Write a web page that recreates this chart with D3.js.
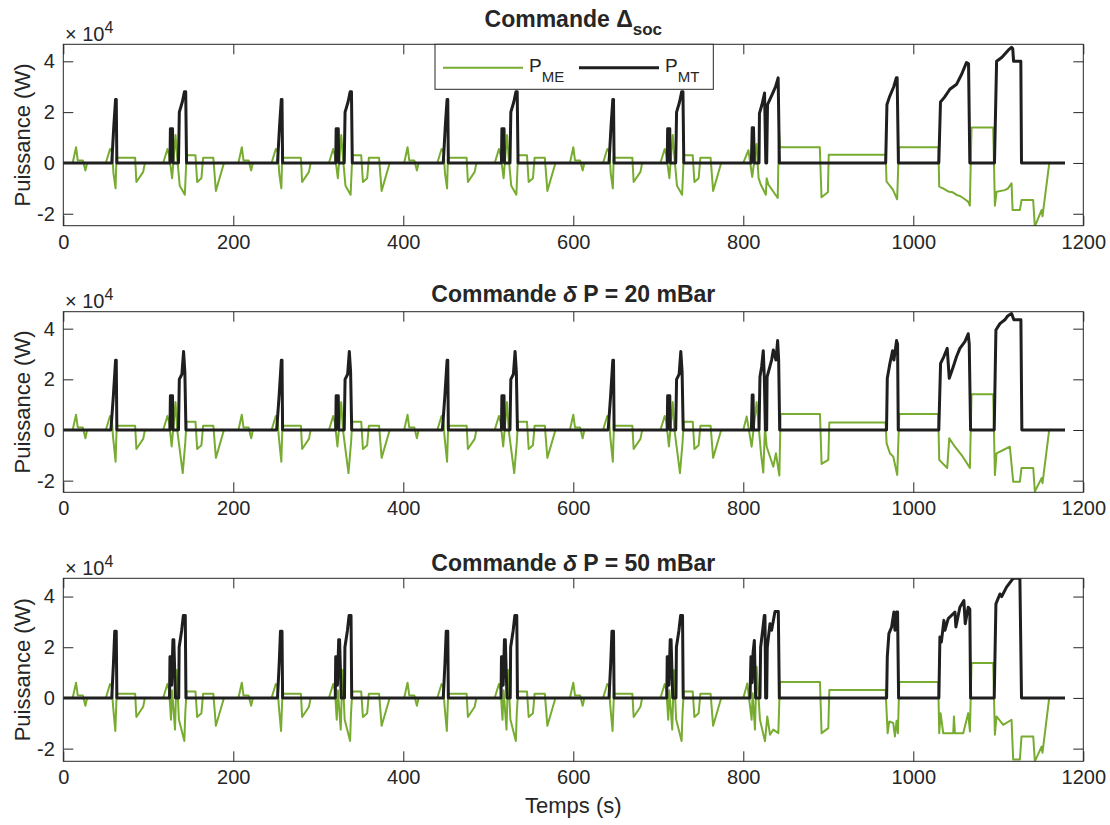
<!DOCTYPE html>
<html>
  <head>
    <meta charset="utf-8">
    <title>Puissance ME / MT</title>
    <script src="https://d3js.org/d3.v7.min.js" charset="utf-8"></script>
    <style type="text/css">
      body { margin: 0; background: #fff; }
      text { font-family: "Liberation Sans", Arial, Helvetica, sans-serif; fill: #262626; }
    </style>
  </head>
  <body>
    <script type="text/javascript">

      // Axis ticks
      var xTicks = [0, 200, 400, 600, 800, 1000, 1200];
      var yTicks = [-2, 0, 2, 4];            // x 10^4 W

      // The urban part (ECE-15, 195 s) is run four times before the EUDC part
      var eceStarts = [0, 195, 390, 585];

      // ---- Commande Delta soc : [time (s), power (x10^4 W)] ----
      var ece1ME = [[0,0],[11,0],[15,0.62],[17,0.1],[23,0.1],[26,-0.3],[28,0],
        [50,0],[55,0.55],[57.5,0.45],[59,-0.4],[61.5,-1.0],[62.5,0.2],[84.5,0.2],[86,-0.75],[94,-0.35],[96,0],
        [117.5,0],[122.5,0.55],[124.5,0.3],[128,-0.6],[132,1.1],[134,0.2],[137,-0.9],[143,-1.25],[145,0.3],
        [155.5,0.3],[157.5,-0.75],[162.5,-0.6],[164.5,0.2],[176.5,0.2],[179.5,-1.1],[189,0]];
      var ece1MT = [[0,0],[57,0],[59.5,1.5],[61.5,2.5],[62.3,2.5],[63,0],[125.5,0],[126,1.35],[128.5,1.35],[129,0],
        [135.5,0],[136.5,2.0],[140,2.4],[142.5,2.8],[144,2.8],[145,0]];
      var eudc1ME = [[796,0],[800,0],[806,0.5],[810.5,-0.55],[815.5,0.75],[818,-0.6],[820.5,-0.85],[826.5,-1.25],
        [827.5,-0.6],[829.5,-0.85],[840.5,-1.38],[842,1.3],[843,0.62],[890,0.62],[892,-1.35],[899.5,-1.15],
        [900.5,0.32],[967.5,0.32],[968.5,-0.73],[976,-1.05],[981,-1.43],[983,0.62],[1029.5,0.62],[1030.5,-0.93],
        [1035,-1.0],[1041,-1.12],[1046,-1.15],[1051,-1.26],[1055,-1.3],[1059,-1.39],[1064.5,-1.52],[1066.5,-1.68],
        [1068.5,1.4],[1094,1.4],[1096,-1.68],
        [1098,-1.13],[1107.7,-1.07],[1111.5,-1.0],[1115.6,-0.8],[1116.8,-1.85],[1125.4,-1.85],[1127.3,-1.46],
        [1141,-1.46],[1143,-2.5],[1151,-1.85],[1152,-2.1],[1160,0],[1178.5,0]];
      var eudc1MT = [[796,0],[809.5,0],[810.5,1.39],[812,1.39],[813,0],[818.5,0],[819,1.95],[822,2.3],[825,2.75],
        [826.5,0],[827.5,0],[828.5,2.3],[834,2.7],[838,3.0],[841,3.35],[842.5,0],
        [967.5,0],[969,2.3],[972,2.6],[977,3.0],[980,3.35],[981,3.35],[982.5,0],
        [1030,0],[1032,2.4],[1037,2.6],[1043,2.9],[1051,3.1],[1057,3.5],[1062.5,3.95],[1065,3.9],[1066.5,0],
        [1095.5,0],[1098,4.0],[1104,4.15],[1108,4.3],[1112,4.45],[1115.5,4.55],[1117,4.5],[1118,4.0],
        [1126.5,4.0],[1127.3,0],[1178.5,0]];

      // ---- Commande delta P = 20 mBar ----
      var ece2ME = [[0,0],[11,0],[15,0.6],[17,0.1],[23,0.1],[26,-0.33],[28,0],
        [50,0],[55,0.55],[57,0.45],[58.5,-0.26],[61.5,-1.25],[62.8,0.17],[84.5,0.17],[86,-0.75],[94,-0.35],[96,0],
        [117.5,0],[122.5,0.55],[124.5,0.3],[127.5,-0.65],[132,1.1],[134,0],[140.5,-1.7],[143.5,-0.5],[145,0.33],
        [155.5,0.33],[157.5,-0.75],[162.5,-0.6],[164.5,0.17],[176.5,0.17],[179.5,-1.1],[189,0]];
      var ece2MT = [[0,0],[56,0],[58.8,1.3],[61.5,2.75],[62.3,2.75],[63,0],[125.5,0],[126,1.35],[128.5,1.35],[129,0],
        [135.5,0],[136.5,2.0],[139.5,2.2],[141.5,3.1],[143,2.3],[144.3,0]];
      var eudc2ME = [[796,0],[800,0],[804,0.53],[809.8,-0.66],[815.7,1.1],[820.8,-0.92],[823.5,-1.68],[825.5,0.1],
        [827.5,-0.66],[835.3,-1.45],[838.4,-0.92],[842.4,-1.8],[843.9,0.63],[890.2,0.63],[892.1,-1.34],[900,-1.18],
        [901.2,0.3],[967.4,0.3],[968.6,-0.53],[972.5,-0.92],[976.4,-1.05],[981.1,-1.78],[983.5,0.63],[1029.3,0.63],
        [1030.5,-1.18],[1039.9,-1.5],[1042.3,-0.33],[1049,-0.66],[1056.8,-0.99],[1061.9,-1.25],[1066.6,-1.5],
        [1068.5,1.41],[1094,1.41],[1096,-1.78],[1097.9,-0.92],[1105.8,-0.79],[1113.6,-0.66],[1117.5,-2.04],
        [1125.4,-2.04],[1127.3,-1.5],[1141.1,-1.5],[1143,-2.43],[1150.9,-1.9],[1152,-2.1],[1159.9,0],[1178.5,0]];
      var eudc2MT = [[796,0],[809.5,0],[810.5,1.38],[811.5,1.38],[812,0],[818.5,0],[819.6,2.1],[821.6,2.5],
        [823.5,3.13],[824.7,2.1],[826,0],[827.5,0],[828,2.1],[833.3,2.76],[835.3,3.16],[838.4,2.76],[840.4,3.53],
        [841.6,2.76],[842.8,0],[968.5,0],[969.4,2.04],[972.5,2.63],[975.6,3.13],[977.2,2.76],[980.3,3.53],
        [981.5,3.4],[982.3,0],[1030,0],[1032.1,2.63],[1036,2.9],[1039.9,3.22],[1042.3,2.04],[1047,2.5],
        [1050.9,2.9],[1054.8,3.22],[1060.7,3.49],[1064.6,3.8],[1065.8,3.4],[1067.4,0],[1095.2,0],[1097.2,3.95],
        [1101.9,4.2],[1107.7,4.35],[1111,4.5],[1115.6,4.6],[1118.3,4.35],[1126.6,4.35],[1127.7,0],[1178.5,0]];

      // ---- Commande delta P = 50 mBar ----
      var ece3ME = [[0,0],[11,0],[15,0.6],[17,0.1],[23,0.1],[26,-0.31],[28,0],
        [50,0],[55,0.55],[57,0.45],[58.5,-0.3],[61.2,-1.3],[62.8,0.17],[84.5,0.17],[86,-0.75],[94,-0.35],[96,0],
        [117.5,0],[122.5,0.55],[124.5,0.3],[126.7,-0.86],[128,0.3],[131.4,-1.25],[133.4,1.1],[136,-0.85],
        [142.4,-1.7],[143.5,-0.6],[145,0.25],[155.5,0.25],[157.5,-0.75],[162.5,-0.6],[164.5,0.17],[176.5,0.17],
        [179.5,-1.1],[189,0]];
      var ece3MT = [[0,0],[57,0],[59,1.36],[60.5,2.63],[62.3,2.63],[63,0],[125,0],[125.5,1.62],[127,1.62],
        [127.5,0.5],[129,2.3],[130,2.3],[132,0],[135.8,0],[136.3,2.0],[139.3,2.67],[141.2,3.25],[143.5,3.25],[144.3,0]];
      var eudc3ME = [[796,0],[800,0],[804.7,0.57],[809.8,-0.86],[811,0.18],[813.7,-1.25],[815.7,1.23],[819.6,-0.86],
        [825.5,-1.71],[828.2,-0.73],[831.4,-1.45],[835.3,-1.25],[841.2,-1.39],[843.1,0.63],[890.2,0.63],
        [892.1,-1.39],[900,-1.19],[901.2,0.31],[967.4,0.31],[969.8,-1.39],[971.7,-0.93],[976.4,-0.99],[978.4,-1.52],
        [980.3,-0.9],[981.9,-1.39],[983.5,0.63],[1029.3,0.63],[1030.5,-1.39],[1032.1,-0.6],[1035.2,-1.39],
        [1047,-1.39],[1047.8,-0.73],[1049,-1.39],[1058.7,-1.39],[1064.6,-0.6],[1066.6,-1.32],[1068.5,1.38],
        [1094,1.38],[1096,-1.45],[1097.9,-0.73],[1105.8,-1.06],[1115.6,-0.86],[1117.5,-2.43],[1125.4,-2.43],
        [1127.3,-1.52],[1141.1,-1.52],[1143,-2.5],[1150.9,-1.92],[1152,-2.16],[1159.9,0],[1178.5,0]];
      var eudc3MT = [[796,0],[807.9,0],[809,1.62],[810.2,0.6],[811.5,1.8],[813,2.27],[814.5,0],[819.6,0],[820.4,2.0],
        [822.8,2.67],[824.7,3.25],[825.5,3.25],[826.3,0],[827.5,0],[828.2,2.0],[831.4,2.93],[833.3,2.67],
        [837.3,3.41],[841.2,3.41],[842.4,0],[968.6,0],[969.4,1.62],[971.3,2.54],[974.5,2.8],[977.2,3.39],
        [978.4,2.67],[980.3,3.39],[981.5,3.39],[982.7,0],[1030.1,0],[1031.3,2.4],[1033,2.2],[1036,3.06],
        [1037.2,2.67],[1041.1,3.13],[1049,3.39],[1050.1,2.8],[1054.8,3.58],[1059.5,3.84],[1061.1,2.93],
        [1064.6,3.58],[1066.5,3.5],[1067.4,0],[1095.2,0],[1097.2,3.71],[1101.9,4.1],[1104,4.0],[1109.7,4.37],
        [1117.5,4.72],[1125.4,4.72],[1127.3,0],[1178.5,0]];

      // Chain the four urban cycles and the extra-urban part
      function fullSeries(ece, eudc) {
        var out = [];
        eceStarts.forEach(function(s) {
          ece.forEach(function(d) { out.push([d[0] + s, d[1]]); });
        });
        return out.concat(eudc);
      }

      var green = "#77ac30";
      var black = "#1f1f1f";
      var axisColor = "#262626";

      var panels = [
        { top: 44.3, bottom: 225.7, ymin: -2.47, ymax: 4.67, titleY: 26.7, title: "soc",
          me: fullSeries(ece1ME, eudc1ME), mt: fullSeries(ece1MT, eudc1MT) },
        { top: 311.7, bottom: 492.3, ymin: -2.46, ymax: 4.67, titleY: 301.7, title: "20",
          me: fullSeries(ece2ME, eudc2ME), mt: fullSeries(ece2MT, eudc2MT) },
        { top: 578.3, bottom: 761.3, ymin: -2.5, ymax: 4.72, titleY: 570.7, title: "50",
          me: fullSeries(ece3ME, eudc3ME), mt: fullSeries(ece3MT, eudc3MT) }
      ];

      var svg = d3.select("body").append("svg")
          .attr("width", 1110)
          .attr("height", 825);

      var x = d3.scaleLinear().domain([0, 1200]).range([63.3, 1083.3]);
      var plain = function(d) { return String(d); };   // "-2" with a plain hyphen, "1000" without comma

      panels.forEach(function(p, i) {
        var y = d3.scaleLinear().domain([p.ymin, p.ymax]).range([p.bottom, p.top]);
        var g = svg.append("g");

        svg.append("clipPath").attr("id", "clip" + i)
          .append("rect")
            .attr("x", x.range()[0]).attr("y", p.top)
            .attr("width", x.range()[1] - x.range()[0])
            .attr("height", p.bottom - p.top);

        var line = d3.line()
            .x(function(d) { return x(d[0]); })
            .y(function(d) { return y(d[1]); });

        g.append("path").datum(p.me)
            .attr("d", line)
            .attr("clip-path", "url(#clip" + i + ")")
            .style("fill", "none").style("stroke", green)
            .style("stroke-width", 2).style("stroke-linejoin", "round");

        g.append("path").datum(p.mt)
            .attr("d", line)
            .attr("clip-path", "url(#clip" + i + ")")
            .style("fill", "none").style("stroke", black)
            .style("stroke-width", 3).style("stroke-linejoin", "round");

        // Axes (ticks inside, like matlab)
        var ax = [
          g.append("g").attr("transform", "translate(0," + p.bottom + ")")
            .call(d3.axisBottom(x).tickValues(xTicks).tickFormat(plain)
              .tickSizeInner(-10).tickSizeOuter(0).tickPadding(9)),
          g.append("g").attr("transform", "translate(0," + p.top + ")")
            .call(d3.axisTop(x).tickValues(xTicks).tickSizeInner(-10).tickSizeOuter(0).tickFormat("")),
          g.append("g").attr("transform", "translate(" + x.range()[0] + ",0)")
            .call(d3.axisLeft(y).tickValues(yTicks).tickFormat(plain)
              .tickSizeInner(-10).tickSizeOuter(0).tickPadding(8.5)),
          g.append("g").attr("transform", "translate(" + x.range()[1] + ",0)")
            .call(d3.axisRight(y).tickValues(yTicks).tickSizeInner(-10).tickSizeOuter(0).tickFormat(""))
        ];
        ax.forEach(function(a) {
          a.attr("color", axisColor);
          a.select(".domain").remove();
          a.selectAll("text").attr("font-size", 20).attr("font-family", null);
        });

        g.append("rect")
            .attr("x", x.range()[0]).attr("y", p.top)
            .attr("width", x.range()[1] - x.range()[0])
            .attr("height", p.bottom - p.top)
            .style("fill", "none").style("stroke", axisColor).style("stroke-width", 1);

        // x10^4 exponent
        var ex = g.append("text").attr("x", 65).attr("y", p.top - 3.6).attr("font-size", 20);
        ex.append("tspan").attr("font-weight", "300").text("\u00d7 ");
        ex.append("tspan").text("10");
        ex.append("tspan").attr("dy", -8).attr("font-size", 16).text("4");

        // y label
        g.append("text")
            .attr("transform", "translate(30," + ((p.top + p.bottom) / 2) + ") rotate(-90)")
            .attr("text-anchor", "middle").attr("font-size", 22)
            .text("Puissance (W)");

        // title
        var t = g.append("text")
            .attr("x", (x.range()[0] + x.range()[1]) / 2).attr("y", p.titleY)
            .attr("text-anchor", "middle").attr("font-size", 23).attr("font-weight", "bold");
        if (i === 0) {
          t.append("tspan").text("Commande \u0394");
          t.append("tspan").attr("dy", 8).attr("font-size", 17).text(p.title);
        } else {
          t.append("tspan").text("Commande ");
          t.append("tspan").attr("font-style", "italic").text("\u03b4");
          t.append("tspan").text(" P = " + p.title + " mBar");
        }
      });

      // x label
      svg.append("text")
          .attr("x", 573.3).attr("y", 813)
          .attr("text-anchor", "middle").attr("font-size", 22)
          .text("Temps (s)");

      // Legend (first axes)
      var leg = svg.append("g");
      leg.append("rect")
          .attr("x", 435).attr("y", 44.3).attr("width", 278.3).attr("height", 45)
          .style("fill", "#fff").style("stroke", axisColor).style("stroke-width", 1);
      var items = [
        { color: green, width: 2, x: 443, label: "ME" },
        { color: black, width: 3, x: 579, label: "MT" }
      ];
      items.forEach(function(it) {
        leg.append("line")
            .attr("x1", it.x).attr("x2", it.x + 80).attr("y1", 67.7).attr("y2", 67.7)
            .style("stroke", it.color).style("stroke-width", it.width);
        var lt = leg.append("text").attr("x", it.x + 86).attr("y", 71.7).attr("font-size", 19);
        lt.append("tspan").text("P");
        lt.append("tspan").attr("dy", 10).attr("font-size", 15).text(it.label);
      });

    </script>
  </body>
</html>
